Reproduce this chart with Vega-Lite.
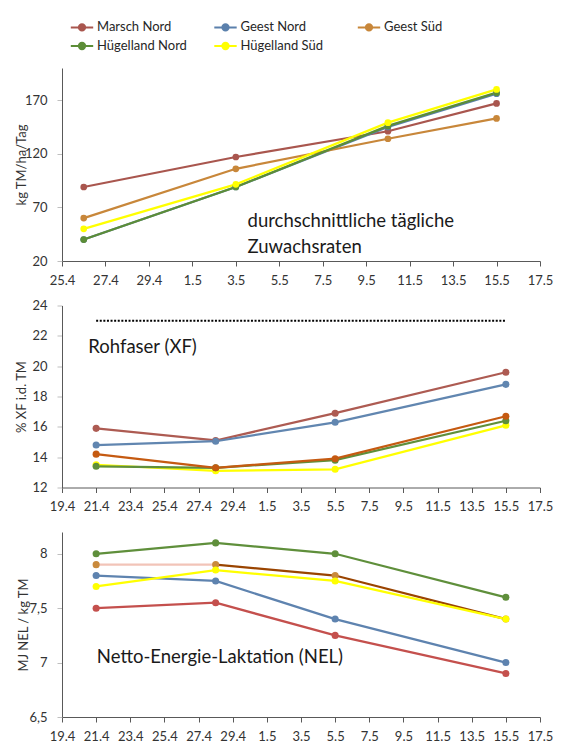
{
  "$schema": "https://vega.github.io/schema/vega-lite/v6.json",
  "background": "white",
  "padding": {"left": 15, "top": 19, "right": 8, "bottom": 2},
  "bounds": "flush",
  "spacing": 44.5,
  "config": {
    "font": "Lato",
    "view": {"stroke": null},
    "axis": {
      "labelFont": "Lato", "labelFontSize": 13, "labelColor": "#333333",
      "titleFont": "Lato", "titleFontSize": 13, "titleFontWeight": "normal", "titleColor": "#333333",
      "domainColor": "#595959", "tickColor": "#595959", "gridColor": "#D9D9D9", "tickSize": 5,
      "labelOverlap": false
    },
    "axisX": {"grid": false, "labelPadding": 8, "labelOverlap": false, "labelFlush": false},
    "axisY": {"grid": true, "labelPadding": 10, "tickColor": "#BFBFBF", "labelOverlap": false}
  },
  "datasets": {
    "growth": [
      {"date": "2024-04-26T00:00", "region": "Marsch Nord", "value": 89},
      {"date": "2024-05-03T00:00", "region": "Marsch Nord", "value": 117},
      {"date": "2024-05-10T00:00", "region": "Marsch Nord", "value": 141},
      {"date": "2024-05-15T00:00", "region": "Marsch Nord", "value": 167},
      {"date": "2024-04-26T00:00", "region": "Geest Nord", "value": 40},
      {"date": "2024-05-03T00:00", "region": "Geest Nord", "value": 89},
      {"date": "2024-05-10T00:00", "region": "Geest Nord", "value": 145},
      {"date": "2024-05-15T00:00", "region": "Geest Nord", "value": 176},
      {"date": "2024-04-26T00:00", "region": "Geest Süd", "value": 60},
      {"date": "2024-05-03T00:00", "region": "Geest Süd", "value": 106},
      {"date": "2024-05-10T00:00", "region": "Geest Süd", "value": 134},
      {"date": "2024-05-15T00:00", "region": "Geest Süd", "value": 153},
      {"date": "2024-04-26T00:00", "region": "Hügelland Nord", "value": 40},
      {"date": "2024-05-03T00:00", "region": "Hügelland Nord", "value": 89},
      {"date": "2024-05-10T00:00", "region": "Hügelland Nord", "value": 146},
      {"date": "2024-05-15T00:00", "region": "Hügelland Nord", "value": 177},
      {"date": "2024-04-26T00:00", "region": "Hügelland Süd", "value": 50},
      {"date": "2024-05-03T00:00", "region": "Hügelland Süd", "value": 91.5},
      {"date": "2024-05-10T00:00", "region": "Hügelland Süd", "value": 149},
      {"date": "2024-05-15T00:00", "region": "Hügelland Süd", "value": 180}
    ],
    "xf": [
      {"date": "2024-04-21T00:00", "region": "Marsch Nord", "value": 15.9},
      {"date": "2024-04-28T00:00", "region": "Marsch Nord", "value": 15.1},
      {"date": "2024-05-05T00:00", "region": "Marsch Nord", "value": 16.9},
      {"date": "2024-05-15T00:00", "region": "Marsch Nord", "value": 19.6},
      {"date": "2024-04-21T00:00", "region": "Geest Nord", "value": 14.8},
      {"date": "2024-04-28T00:00", "region": "Geest Nord", "value": 15.05},
      {"date": "2024-05-05T00:00", "region": "Geest Nord", "value": 16.3},
      {"date": "2024-05-15T00:00", "region": "Geest Nord", "value": 18.8},
      {"date": "2024-04-21T00:00", "region": "Hügelland Süd", "value": 13.5},
      {"date": "2024-04-28T00:00", "region": "Hügelland Süd", "value": 13.1},
      {"date": "2024-05-05T00:00", "region": "Hügelland Süd", "value": 13.2},
      {"date": "2024-05-15T00:00", "region": "Hügelland Süd", "value": 16.1},
      {"date": "2024-04-21T00:00", "region": "Hügelland Nord", "value": 13.4},
      {"date": "2024-04-28T00:00", "region": "Hügelland Nord", "value": 13.3},
      {"date": "2024-05-05T00:00", "region": "Hügelland Nord", "value": 13.8},
      {"date": "2024-05-15T00:00", "region": "Hügelland Nord", "value": 16.4},
      {"date": "2024-04-21T00:00", "region": "Geest Süd", "value": 14.2},
      {"date": "2024-04-28T00:00", "region": "Geest Süd", "value": 13.3},
      {"date": "2024-05-05T00:00", "region": "Geest Süd", "value": 13.9},
      {"date": "2024-05-15T00:00", "region": "Geest Süd", "value": 16.7}
    ],
    "nel": [
      {"date": "2024-04-21T00:00", "region": "Marsch Nord", "value": 7.5},
      {"date": "2024-04-28T00:00", "region": "Marsch Nord", "value": 7.55},
      {"date": "2024-05-05T00:00", "region": "Marsch Nord", "value": 7.25},
      {"date": "2024-05-15T00:00", "region": "Marsch Nord", "value": 6.9},
      {"date": "2024-04-21T00:00", "region": "Geest Nord", "value": 7.8},
      {"date": "2024-04-28T00:00", "region": "Geest Nord", "value": 7.75},
      {"date": "2024-05-05T00:00", "region": "Geest Nord", "value": 7.4},
      {"date": "2024-05-15T00:00", "region": "Geest Nord", "value": 7.0},
      {"date": "2024-04-21T00:00", "region": "Hügelland Nord", "value": 8.0},
      {"date": "2024-04-28T00:00", "region": "Hügelland Nord", "value": 8.1},
      {"date": "2024-05-05T00:00", "region": "Hügelland Nord", "value": 8.0},
      {"date": "2024-05-15T00:00", "region": "Hügelland Nord", "value": 7.6},
      {"date": "2024-04-21T00:00", "region": "Geest Süd", "value": 7.9},
      {"date": "2024-04-28T00:00", "region": "Geest Süd", "value": 7.9},
      {"date": "2024-05-05T00:00", "region": "Geest Süd", "value": 7.8},
      {"date": "2024-05-15T00:00", "region": "Geest Süd", "value": 7.4},
      {"date": "2024-04-21T00:00", "region": "Hügelland Süd", "value": 7.7},
      {"date": "2024-04-28T00:00", "region": "Hügelland Süd", "value": 7.85},
      {"date": "2024-05-05T00:00", "region": "Hügelland Süd", "value": 7.75},
      {"date": "2024-05-15T00:00", "region": "Hügelland Süd", "value": 7.4}
    ]
  },
  "resolve": {"scale": {"color": "independent", "stroke": "independent", "fill": "independent"}, "legend": {"color": "independent"}},
  "vconcat": [
    {
      "width": 478, "height": 193,
      "resolve": {"axis": {"x": "independent", "y": "independent"}},
      "layer": [
        {"data": {"values": [{}]}, "mark": {"type": "rect", "fill": "white"},
          "encoding": {"x": {"datum": {"year": 2024, "month": 5, "date": 3, "hours": 4}, "type": "temporal", "axis": null}, "x2": {"datum": {"year": 2024, "month": 5, "date": 13, "hours": 8}},
            "y": {"datum": 74, "type": "quantitative", "axis": null}, "y2": {"datum": 24}}},
        {
          "data": {"name": "growth"},
          "encoding": {
            "x": {"field": "date", "type": "temporal",
              "scale": {"domain": [{"year": 2024, "month": 4, "date": 25}, {"year": 2024, "month": 5, "date": 17}]},
              "axis": {"title": null, "format": "%-d.%-m", "labelOverlap": false,
                "values": [{"year": 2024, "month": 4, "date": 25}, {"year": 2024, "month": 4, "date": 27}, {"year": 2024, "month": 4, "date": 29}, {"year": 2024, "month": 5, "date": 1}, {"year": 2024, "month": 5, "date": 3}, {"year": 2024, "month": 5, "date": 5}, {"year": 2024, "month": 5, "date": 7}, {"year": 2024, "month": 5, "date": 9}, {"year": 2024, "month": 5, "date": 11}, {"year": 2024, "month": 5, "date": 13}, {"year": 2024, "month": 5, "date": 15}, {"year": 2024, "month": 5, "date": 17}]}},
            "y": {"field": "value", "type": "quantitative",
              "scale": {"domain": [20, 200], "nice": false, "zero": false},
              "axis": {"title": "kg TM/ha/Tag", "titlePadding": -4, "values": [20, 70, 120, 170], "format": "d", "labelOverlap": false}},
            "color": {"field": "region", "type": "nominal",
              "scale": {"domain": ["Marsch Nord", "Geest Nord", "Geest Süd", "Hügelland Nord", "Hügelland Süd"], "range": ["#A9564E", "#5B80AC", "#C8873A", "#5C8D37", "#FFFF00"]},
              "legend": {"orient": "none", "legendX": 12, "legendY": -49, "direction": "horizontal", "columns": 3, "gridAlign": "all", "columnPadding": 22.5, "rowPadding": 3, "title": null,
                "labelFontSize": 13, "labelColor": "#262626", "labelFont": "Lato", "labelOffset": 7,
                "symbolType": "M-1.6,0H1.6M-0.45,0A0.45,0.45,0,1,1,0.45,0A0.45,0.45,0,1,1,-0.45,0Z", "symbolSize": 196, "symbolStrokeWidth": 2,
                "encode": {"symbols": {"update": {
                  "fill": {"signal": "{'Marsch Nord':'#A9564E','Geest Nord':'#5B80AC','Geest Süd':'#C8873A','Hügelland Nord':'#5C8D37','Hügelland Süd':'#FFFF00'}[datum.value]"},
                  "stroke": {"signal": "{'Marsch Nord':'#A9564E','Geest Nord':'#5B80AC','Geest Süd':'#C8873A','Hügelland Nord':'#5C8D37','Hügelland Süd':'#FFFF00'}[datum.value]"},
                  "opacity": {"value": 1}, "fillOpacity": {"value": 1}}}}}}
          },
          "layer": [
            {"mark": {"type": "line", "strokeWidth": 2.25}},
            {"mark": {"type": "point", "filled": true, "size": 45, "opacity": 1}}
          ]
        },
        {"data": {"values": [{}]}, "mark": {"type": "text", "align": "left", "baseline": "alphabetic", "fontSize": 18.5, "lineHeight": 26, "font": "Lato", "fill": "#1a1a1a"},
          "encoding": {"x": {"datum": {"year": 2024, "month": 5, "date": 3, "hours": 13}, "type": "temporal", "axis": null}, "y": {"datum": 52, "type": "quantitative", "axis": null},
            "text": {"value": ["durchschnittliche tägliche", " Zuwachsraten"]}}}
      ]
    },
    {
      "width": 478, "height": 182,
      "resolve": {"axis": {"x": "independent", "y": "independent"}},
      "layer": [
        {"data": {"values": [{}]}, "mark": {"type": "rect", "fill": "white"},
          "encoding": {"x": {"datum": {"year": 2024, "month": 4, "date": 20, "hours": 1}, "type": "temporal", "axis": null}, "x2": {"datum": {"year": 2024, "month": 4, "date": 27}},
            "y": {"datum": 22.6, "type": "quantitative", "axis": null}, "y2": {"datum": 20.3}}},
        {"data": {"values": [{}]}, "mark": {"type": "rule", "strokeDash": [2, 1.6], "strokeWidth": 2, "stroke": "#000000"},
          "encoding": {"x": {"datum": {"year": 2024, "month": 4, "date": 21}, "type": "temporal", "axis": null}, "x2": {"datum": {"year": 2024, "month": 5, "date": 15}},
            "y": {"datum": 23, "type": "quantitative", "axis": null}}},
        {
          "data": {"name": "xf"},
          "encoding": {
            "x": {"field": "date", "type": "temporal",
              "scale": {"domain": [{"year": 2024, "month": 4, "date": 19}, {"year": 2024, "month": 5, "date": 17}]},
              "axis": {"title": null, "format": "%-d.%-m", "labelOverlap": false,
                "values": [{"year": 2024, "month": 4, "date": 19}, {"year": 2024, "month": 4, "date": 21}, {"year": 2024, "month": 4, "date": 23}, {"year": 2024, "month": 4, "date": 25}, {"year": 2024, "month": 4, "date": 27}, {"year": 2024, "month": 4, "date": 29}, {"year": 2024, "month": 5, "date": 1}, {"year": 2024, "month": 5, "date": 3}, {"year": 2024, "month": 5, "date": 5}, {"year": 2024, "month": 5, "date": 7}, {"year": 2024, "month": 5, "date": 9}, {"year": 2024, "month": 5, "date": 11}, {"year": 2024, "month": 5, "date": 13}, {"year": 2024, "month": 5, "date": 15}, {"year": 2024, "month": 5, "date": 17}]}},
            "y": {"field": "value", "type": "quantitative",
              "scale": {"domain": [12, 24], "nice": false, "zero": false},
              "axis": {"title": "% XF i.d. TM", "titlePadding": 3, "values": [12, 14, 16, 18, 20, 22, 24], "labelOverlap": false}},
            "color": {"field": "region", "type": "nominal",
              "scale": {"domain": ["Marsch Nord", "Geest Nord", "Geest Süd", "Hügelland Nord", "Hügelland Süd"], "range": ["#AD5B52", "#6186B0", "#C55A11", "#5F8F3B", "#FFFF00"]},
              "legend": null}
          },
          "layer": [
            {"mark": {"type": "line", "strokeWidth": 2.25}},
            {"mark": {"type": "point", "filled": true, "size": 50, "opacity": 1}}
          ]
        },
        {"data": {"values": [{}]}, "mark": {"type": "text", "align": "left", "baseline": "alphabetic", "fontSize": 18.5, "font": "Lato", "fill": "#1a1a1a"},
          "encoding": {"x": {"datum": {"year": 2024, "month": 4, "date": 20, "hours": 13}, "type": "temporal", "axis": null}, "y": {"datum": 20.87, "type": "quantitative", "axis": null},
            "text": {"value": "Rohfaser (XF)"}}}
      ]
    },
    {
      "width": 478, "height": 185,
      "resolve": {"axis": {"x": "independent", "y": "independent"}},
      "layer": [
        {"data": {"values": [{}]}, "mark": {"type": "rect", "fill": "white"},
          "encoding": {"x": {"datum": {"year": 2024, "month": 4, "date": 20, "hours": 13}, "type": "temporal", "axis": null}, "x2": {"datum": {"year": 2024, "month": 5, "date": 6, "hours": 4}},
            "y": {"datum": 7.14, "type": "quantitative", "axis": null}, "y2": {"datum": 6.93}}},
        {
          "data": {"name": "nel"},
          "encoding": {
            "x": {"field": "date", "type": "temporal",
              "scale": {"domain": [{"year": 2024, "month": 4, "date": 19}, {"year": 2024, "month": 5, "date": 17}]},
              "axis": {"title": null, "format": "%-d.%-m", "labelOverlap": false,
                "values": [{"year": 2024, "month": 4, "date": 19}, {"year": 2024, "month": 4, "date": 21}, {"year": 2024, "month": 4, "date": 23}, {"year": 2024, "month": 4, "date": 25}, {"year": 2024, "month": 4, "date": 27}, {"year": 2024, "month": 4, "date": 29}, {"year": 2024, "month": 5, "date": 1}, {"year": 2024, "month": 5, "date": 3}, {"year": 2024, "month": 5, "date": 5}, {"year": 2024, "month": 5, "date": 7}, {"year": 2024, "month": 5, "date": 9}, {"year": 2024, "month": 5, "date": 11}, {"year": 2024, "month": 5, "date": 13}, {"year": 2024, "month": 5, "date": 15}, {"year": 2024, "month": 5, "date": 17}]}},
            "y": {"field": "value", "type": "quantitative",
              "scale": {"domain": [6.5, 8.2], "nice": false, "zero": false},
              "axis": {"title": "MJ NEL / kg TM", "titlePadding": -2, "values": [6.5, 7, 7.5, 8], "labelOverlap": false, "labelExpr": "replace(format(datum.value, '~g'), '.', ',')"}}
          },
          "layer": [
            {"transform": [{"filter": {"and": [{"field": "region", "equal": "Geest Süd"}, {"field": "date", "lte": {"year": 2024, "month": 4, "date": 28}}]}}],
              "mark": {"type": "line", "strokeWidth": 2.25, "stroke": "#F2C4B8"}},
            {"transform": [{"filter": {"not": {"and": [{"field": "region", "equal": "Geest Süd"}, {"field": "date", "lt": {"year": 2024, "month": 4, "date": 25}}]}}}],
              "mark": {"type": "line", "strokeWidth": 2.25},
              "encoding": {"stroke": {"field": "region", "type": "nominal",
                "scale": {"domain": ["Marsch Nord", "Geest Nord", "Geest Süd", "Hügelland Nord", "Hügelland Süd"], "range": ["#C4504D", "#5E83AF", "#9A4400", "#5F8F3B", "#FFFF00"]},
                "legend": null}}},
            {"mark": {"type": "point", "filled": true, "size": 50, "opacity": 1, "strokeWidth": 0},
              "encoding": {"fill": {"field": "region", "type": "nominal",
                "scale": {"domain": ["Marsch Nord", "Geest Nord", "Geest Süd", "Hügelland Nord", "Hügelland Süd"], "range": ["#C4504D", "#5E83AF", "#C98A3C", "#5F8F3B", "#FFFF00"]},
                "legend": null}}}
          ]
        },
        {"data": {"values": [{}]}, "mark": {"type": "text", "align": "left", "baseline": "alphabetic", "fontSize": 18.5, "font": "Lato", "fill": "#1a1a1a"},
          "encoding": {"x": {"datum": {"year": 2024, "month": 4, "date": 21, "hours": 1}, "type": "temporal", "axis": null}, "y": {"datum": 7.0, "type": "quantitative", "axis": null},
            "text": {"value": "Netto-Energie-Laktation (NEL)"}}}
      ]
    }
  ]
}
